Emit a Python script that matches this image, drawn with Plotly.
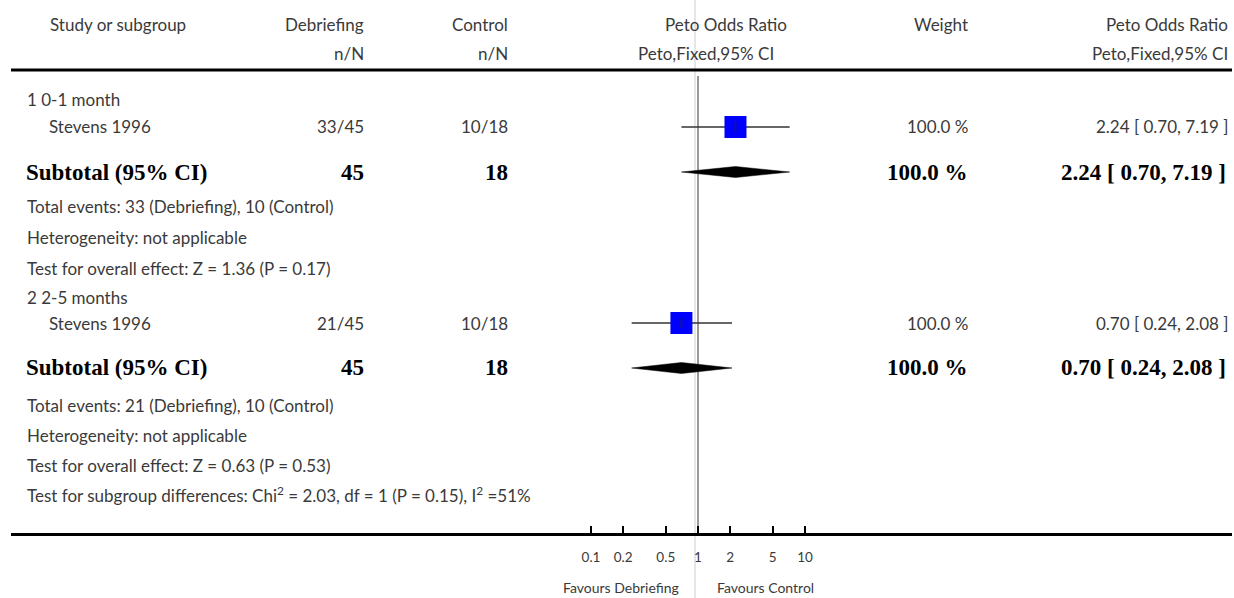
import plotly.graph_objects as go

# ---------------- data ----------------
group_labels = ["1 0-1 month", "2 2-5 months"]
study_names = ["Stevens 1996", "Stevens 1996"]
deb_events = [33, 21]
deb_total = [45, 45]
ctl_events = [10, 10]
ctl_total = [18, 18]
study_or = [2.24, 0.70]
study_lo = [0.70, 0.24]
study_hi = [7.19, 2.08]
study_weight = [100.0, 100.0]
sub_or = [2.24, 0.70]
sub_lo = [0.70, 0.24]
sub_hi = [7.19, 2.08]
sub_weight = [100.0, 100.0]
overall_z = ["1.36", "0.63"]
overall_p = ["0.17", "0.53"]
subgroup_test = "Test for subgroup differences: Chi<sup>2</sup> = 2.03, df = 1 (P = 0.15), I<sup>2</sup> =51%"
tick_vals = [0.1, 0.2, 0.5, 1, 2, 5, 10]
tick_text = ["0.1", "0.2", "0.5", "1", "2", "5", "10"]
favours_left = "Favours Debriefing"
favours_right = "Favours Control"

# ---------------- layout constants ----------------
W, H = 1234, 598
L, R = 11, 1232          # plot area left/right px
BOT = 533                # axis line px
X1 = 698                 # px of OR = 1
DEC = 107                # px per decade
xr = [(L - X1) / DEC, (R - X1) / DEC]

SANS = "Lato, 'Open Sans', sans-serif"
SERIF = "'Liberation Serif', 'DejaVu Serif', serif"
GREY = "#3a3a3a"
FS = 17
BFS = 23

# row pixel positions for each group
row_group = [100, 297]
row_study = [127, 323]
row_sub = [172, 368]
row_events = [207, 406]
row_het = [237, 435]
row_test = [268, 465]
row_subgroup = 494

def px(x):
    return (x - L) / (R - L)

def py(y):
    return (BOT - y) / BOT

ann = []
def txt(s, x, y, anchor="left", bold=False, size=None, color=None):
    ann.append(dict(
        text=s, x=px(x), y=py(y), xref="paper", yref="paper", showarrow=False,
        xanchor=anchor, yanchor="middle",
        font=dict(family=SERIF if bold else SANS,
                  size=size or (BFS if bold else FS),
                  weight="bold" if bold else "normal",
                  color=color or ("black" if bold else GREY))))

# header
txt("Study or subgroup", 48, 25)
txt("Debriefing", 366, 25, "right")
txt("n/N", 366, 54, "right")
txt("Control", 510, 25, "right")
txt("n/N", 510, 54, "right")
txt("Peto Odds Ratio", 726, 25, "center")
txt("Peto,Fixed,95% CI", 706, 54, "center")
txt("Weight", 970, 25, "right")
txt("Peto Odds Ratio", 1230, 25, "right")
txt("Peto,Fixed,95% CI", 1230, 54, "right")

for i in range(len(group_labels)):
    txt(group_labels[i], 25, row_group[i])
    txt(study_names[i], 47, row_study[i])
    txt(f"{deb_events[i]}/{deb_total[i]}", 366, row_study[i], "right")
    txt(f"{ctl_events[i]}/{ctl_total[i]}", 510, row_study[i], "right")
    txt(f"{study_weight[i]:.1f} %", 970, row_study[i], "right")
    txt(f"{study_or[i]:.2f} [ {study_lo[i]:.2f}, {study_hi[i]:.2f} ]", 1230, row_study[i], "right")
    txt("Subtotal (95% CI)", 24, row_sub[i], bold=True)
    txt(f"{deb_total[i]}", 366, row_sub[i], "right", bold=True)
    txt(f"{ctl_total[i]}", 510, row_sub[i], "right", bold=True)
    txt(f"{sub_weight[i]:.1f} %", 970, row_sub[i], "right", bold=True)
    txt(f"{sub_or[i]:.2f} [ {sub_lo[i]:.2f}, {sub_hi[i]:.2f} ]", 1228, row_sub[i], "right", bold=True)
    txt(f"Total events: {deb_events[i]} (Debriefing), {ctl_events[i]} (Control)", 25, row_events[i])
    txt("Heterogeneity: not applicable", 25, row_het[i])
    txt(f"Test for overall effect: Z = {overall_z[i]} (P = {overall_p[i]})", 25, row_test[i])
txt(subgroup_test, 25, row_subgroup)

txt(favours_left, 681, 587, "right", size=14)
txt(favours_right, 715, 587, "left", size=14)

fig = go.Figure()

# CI lines
for i in range(len(study_or)):
    fig.add_trace(go.Scatter(x=[study_lo[i], study_hi[i]], y=[row_study[i], row_study[i]],
                             mode="lines", line=dict(color="#333333", width=1.6),
                             hoverinfo="skip", showlegend=False))
# squares
fig.add_trace(go.Scatter(x=study_or, y=row_study, mode="markers",
                         marker=dict(symbol="square", size=22, color="#0000ff",
                                     line=dict(width=0)),
                         showlegend=False))
# point marks
fig.add_trace(go.Scatter(x=study_or, y=row_study, mode="markers",
                         marker=dict(symbol="line-ns", size=7,
                                     line=dict(width=1.5, color="#222222")),
                         showlegend=False, hoverinfo="skip"))
# diamonds
HALF = 5.5
for i in range(len(sub_or)):
    y = row_sub[i]
    fig.add_trace(go.Scatter(x=[sub_lo[i], sub_or[i], sub_hi[i], sub_or[i], sub_lo[i]],
                             y=[y, y - HALF, y, y + HALF, y],
                             mode="lines", fill="toself", fillcolor="black",
                             line=dict(color="black", width=0.5),
                             showlegend=False, hoverinfo="skip"))

shapes = [
    # top rule
    dict(type="line", xref="paper", yref="y", x0=0, x1=1, y0=70, y1=70,
         line=dict(color="black", width=3)),
    # light grey guide line through whole height
    dict(type="line", xref="paper", yref="paper", x0=px(695), x1=px(695), y0=-0.2, y1=1,
         line=dict(color="#e6e6e6", width=2), layer="below"),
    # line of no effect
    dict(type="line", xref="x", yref="y", x0=1, x1=1, y0=76, y1=BOT,
         line=dict(color="#777777", width=1.5), layer="below"),
]

fig.update_layout(
    width=W, height=H,
    margin=dict(l=L, r=W - R, t=0, b=H - BOT),
    plot_bgcolor="white", paper_bgcolor="white",
    annotations=ann, shapes=shapes, showlegend=False,
    xaxis=dict(type="log", range=xr, showgrid=False, zeroline=False,
               showline=True, linecolor="black", linewidth=3,
               ticks="inside", ticklen=7, tickwidth=2, tickcolor="black",
               tickvals=tick_vals, ticktext=tick_text,
               tickfont=dict(family=SANS, size=13.5, color=GREY),
               ticklabelstandoff=10, fixedrange=True),
    yaxis=dict(range=[BOT, 0], visible=False, fixedrange=True),
)

fig.write_html("out.html", config={"displayModeBar": False},
               post_script="document.body.style.margin='0px';document.body.style.overflow='hidden';")
